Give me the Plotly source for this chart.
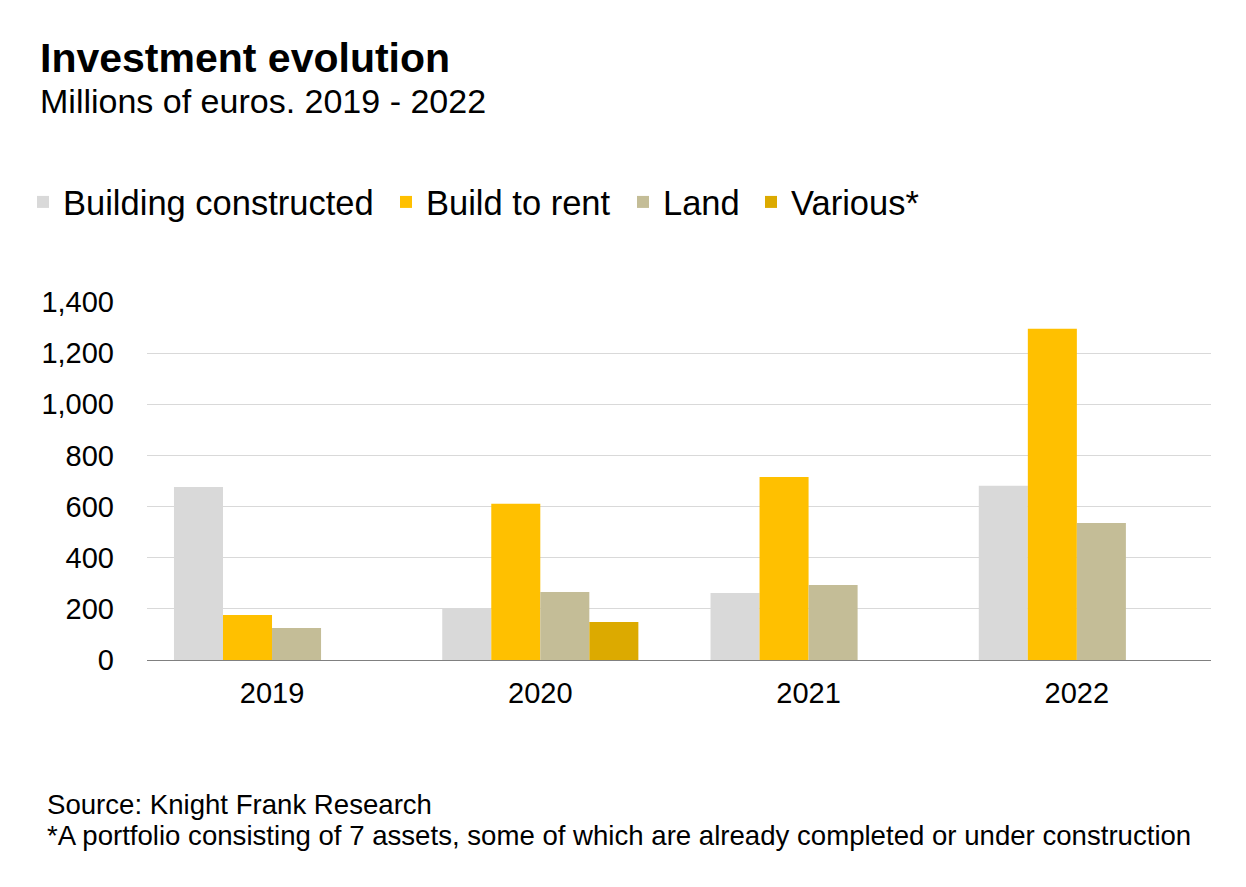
import plotly.graph_objects as go

years = ["2019", "2020", "2021", "2022"]
building_constructed = [677, 199, 262, 681]
build_to_rent = [176, 611, 716, 1295]
land = [125, 266, 293, 536]
various = [None, 149, None, None]

series_names = ["Building constructed", "Build to rent", "Land", "Various*"]
series_colors = ["#d9d9d9", "#ffc000", "#c4bd97", "#dcaa00"]

# the page body adds an 8px offset; work in reference pixel coords
OFF = 8
W, H = 1246 - OFF, 887 - OFF
L, R, T, B = 147, 1211, 302, 660
FONT = "Liberation Sans, Arial, sans-serif"


def px(x):
    return (x - L) / (R - L)


def py(y):
    return (B - y) / (B - T)


legend_ids = ["legend", "legend2", "legend3", "legend4"]
legend_left = [23, 386, 623, 751]

fig = go.Figure()
for name, vals, col, lid in zip(series_names,
                                [building_constructed, build_to_rent, land, various],
                                series_colors, legend_ids):
    fig.add_trace(go.Bar(x=years, y=vals, name=name, marker_color=col,
                         marker_line_width=0, legend=lid))

layout_legends = {}
for lid, lx in zip(legend_ids, legend_left):
    layout_legends[lid] = dict(orientation="h", x=px(lx), xanchor="left", y=py(202),
                               yanchor="middle", font=dict(size=34.5, family=FONT),
                               bgcolor="rgba(0,0,0,0)")

fig.update_layout(
    width=W, height=H,
    margin=dict(l=L - OFF, r=(W + OFF) - R, t=T - OFF, b=(H + OFF) - B, pad=0),
    paper_bgcolor="white", plot_bgcolor="white",
    barmode="group", bargap=0.269, bargroupgap=0,
    font=dict(family=FONT, color="#000000"),
    showlegend=True,
    xaxis=dict(type="category", range=[-0.466, 3.5],
               showgrid=False, showline=True, linecolor="#808080", linewidth=1,
               ticks="", tickfont=dict(size=29), ticklabelstandoff=7),
    yaxis=dict(range=[0, 1400], dtick=200, tickformat=",d",
               showgrid=True, gridcolor="#d9d9d9", gridwidth=1,
               zeroline=False, showline=False, ticks="",
               tickfont=dict(size=29), ticklabelstandoff=32),
    **layout_legends,
)

annotations = [
    dict(text="<b>Investment evolution</b>", x=px(38), y=py(58), size=41),
    dict(text="Millions of euros. 2019 - 2022", x=px(38), y=py(101), size=34),
    dict(text="Source: Knight Frank Research", x=px(45), y=py(804), size=27.6),
    dict(text="*A portfolio consisting of 7 assets, some of which are already completed or under construction",
         x=px(45), y=py(835), size=27.6),
]
for a in annotations:
    fig.add_annotation(text=a["text"], x=a["x"], y=a["y"], xref="paper", yref="paper",
                       xanchor="left", yanchor="middle", showarrow=False,
                       align="left", font=dict(size=a["size"], family=FONT, color="#000000"))

fig.write_html("out.html")
